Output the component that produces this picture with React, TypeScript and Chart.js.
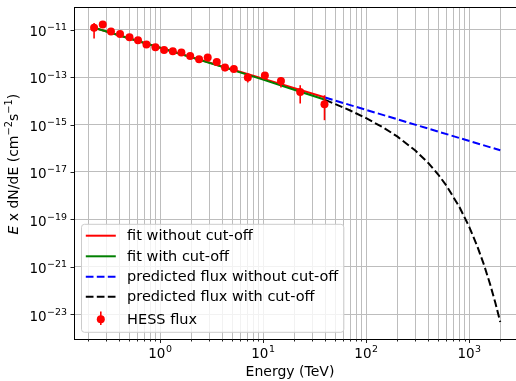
import React, { useEffect, useRef } from "react";
import { Chart, registerables } from "chart.js";

Chart.register(...registerables);

// HESS flux points: energy (TeV), E x dN/dE (cm^-2 s^-1), error-bar ends
const hessEnergy = [0.229, 0.278, 0.334, 0.409, 0.505, 0.611, 0.738, 0.902, 1.094, 1.33, 1.61, 1.96, 2.39, 2.9, 3.55, 4.27, 5.2, 7.1, 10.4, 14.9, 22.9, 39.4];
const hessFlux = [1.21e-11, 1.63e-11, 8.24e-12, 6.53e-12, 4.74e-12, 3.54e-12, 2.33e-12, 1.8e-12, 1.38e-12, 1.22e-12, 1.08e-12, 7.73e-13, 5.61e-13, 6.62e-13, 4.32e-13, 2.51e-13, 2.19e-13, 9.53e-14, 1.16e-13, 6.86e-14, 2.36e-14, 7.16e-15];
const hessLow = [4.18e-12, 1.42e-11, 7.3e-12, 5.8e-12, 4.2e-12, 3.15e-12, 2.07e-12, 1.6e-12, 1.22e-12, 1.07e-12, 9.4e-13, 6.7e-13, 4.8e-13, 5.6e-13, 3.6e-13, 1.75e-13, 1.8e-13, 5.9e-14, 9.5e-14, 3.6e-14, 7.66e-15, 1.52e-15];
const hessHigh = [1.9e-11, 1.9e-11, 9.2e-12, 7.3e-12, 5.3e-12, 3.95e-12, 2.6e-12, 2.0e-12, 1.55e-12, 1.38e-12, 1.23e-12, 8.9e-13, 6.5e-13, 7.7e-13, 5.2e-13, 3.1e-13, 2.65e-13, 1.4e-13, 1.42e-13, 1.01e-13, 4.52e-14, 1.71e-14];

// fit without cut-off
const fitNoCutEnergy = [0.229, 40];
const fitNoCutFlux = [1.19e-11, 1.37e-14];
// fit with cut-off
const fitCutEnergy = [0.229, 1, 5, 10, 20, 40];
const fitCutFlux = [1.19e-11, 1.71e-12, 2.0e-13, 7.8e-14, 2.9e-14, 1.1e-14];
// predicted flux without cut-off
const predNoCutEnergy = [40, 2000];
const predNoCutFlux = [1.37e-14, 8.2e-17];
// predicted flux with cut-off
const predCutEnergy = [40, 50, 70, 100, 150, 200, 300, 400, 500, 600, 800, 1000, 1200, 1400, 1600, 1800, 2000];
const predCutFlux = [1.1e-14, 7.3e-15, 3.9e-15, 1.85e-15, 7.0e-16, 3.15e-16, 8.0e-17, 2.4e-17, 7.8e-18, 2.66e-18, 3.45e-19, 4.86e-20, 7.23e-21, 1.12e-21, 1.77e-22, 2.86e-23, 4.72e-24];

// axes
const xMin = 0.1462;
const xMax = 3400;
const yMin = 8.7e-25;
const yMax = 8.96e-11;
const xDecades = [0.1, 1, 10, 100, 1000];
const xMajorExps = [0, 1, 2, 3];
const yMajorExps = [-23, -21, -19, -17, -15, -13, -11];

const legendLabels = [
  "fit without cut-off",
  "fit with cut-off",
  "predicted flux without cut-off",
  "predicted flux with cut-off",
  "HESS flux",
];

const FONT = '"DejaVu Sans"';
const DASH = [7.7, 3.3];
const CANVAS_W = 524;
const CANVAS_H = 381;

function pts(xs: number[], ys: number[]) {
  return xs.map((x, i) => ({ x, y: ys[i] }));
}

function xTickValues() {
  const out: number[] = [];
  for (const d of xDecades) {
    for (let m = 1; m <= 9; m++) {
      const v = +(d * m).toPrecision(6);
      if (v >= xMin && v <= xMax) out.push(v);
    }
  }
  return out;
}

function expText(e: number) {
  return e < 0 ? "\u2212" + String(-e) : String(e);
}

function drawPow(ctx: CanvasRenderingContext2D, x: number, baseline: number, e: number, align: "center" | "right", size: number) {
  const es = size * 0.7;
  ctx.font = `${size}px ${FONT}`;
  const wb = ctx.measureText("10").width;
  ctx.font = `${es}px ${FONT}`;
  const et = expText(e);
  const we = ctx.measureText(et).width;
  const total = wb + 0.5 + we;
  const sx = align === "center" ? x - total / 2 : x - total;
  ctx.textAlign = "left";
  ctx.textBaseline = "alphabetic";
  ctx.fillStyle = "#000";
  ctx.font = `${size}px ${FONT}`;
  ctx.fillText("10", sx, baseline);
  ctx.font = `${es}px ${FONT}`;
  ctx.fillText(et, sx + wb + 0.5, baseline - size * 0.43);
}

const decorPlugin = {
  id: "decor",
  beforeDatasetDraw(chart: any, args: any) {
    if (args.index !== 0) return;
    const { ctx, scales } = chart;
    const xs = scales.x;
    const ys = scales.y;
    ctx.save();
    ctx.strokeStyle = "#ff0000";
    ctx.lineWidth = 1.6;
    hessEnergy.forEach((E, i) => {
      const px = xs.getPixelForValue(E);
      ctx.beginPath();
      ctx.moveTo(px, ys.getPixelForValue(hessLow[i]));
      ctx.lineTo(px, ys.getPixelForValue(hessHigh[i]));
      ctx.stroke();
    });
    ctx.restore();
  },
  afterDraw(chart: any) {
    const { ctx, chartArea: ca, scales } = chart;
    const xs = scales.x;
    const ys = scales.y;
    ctx.save();

    // top spine
    ctx.strokeStyle = "#000";
    ctx.lineWidth = 1;
    ctx.beginPath();
    ctx.moveTo(ca.left, Math.round(ca.top) + 0.5);
    ctx.lineTo(ca.right, Math.round(ca.top) + 0.5);
    ctx.stroke();

    // x ticks
    ctx.strokeStyle = "#222";
    for (const v of xTickValues()) {
      const major = Math.abs(Math.log10(v) - Math.round(Math.log10(v))) < 1e-9;
      const px = Math.round(xs.getPixelForValue(v)) + 0.5;
      ctx.beginPath();
      ctx.moveTo(px, ca.bottom);
      ctx.lineTo(px, ca.bottom + (major ? 3.5 : 2));
      ctx.stroke();
    }
    // y ticks
    for (const e of yMajorExps) {
      const py = Math.round(ys.getPixelForValue(Math.pow(10, e))) + 0.5;
      ctx.beginPath();
      ctx.moveTo(ca.left - 3.5, py);
      ctx.lineTo(ca.left, py);
      ctx.stroke();
    }

    // tick labels
    for (const e of xMajorExps) {
      drawPow(ctx, xs.getPixelForValue(Math.pow(10, e)), ca.bottom + 18.5, e, "center", 13.5);
    }
    for (const e of yMajorExps) {
      drawPow(ctx, ca.left - 7, ys.getPixelForValue(Math.pow(10, e)) + 6.3, e, "right", 13.5);
    }

    // x title
    ctx.fillStyle = "#000";
    ctx.font = `14px ${FONT}`;
    ctx.textAlign = "center";
    ctx.textBaseline = "alphabetic";
    ctx.fillText("Energy (TeV)", ca.left + 216, ca.bottom + 36.5);

    // y title (rich text)
    const parts = [
      { t: "E", f: `italic 14px ${FONT}`, dy: 0 },
      { t: " x dN/dE (cm", f: `14px ${FONT}`, dy: 0 },
      { t: "\u22122", f: `9.8px ${FONT}`, dy: -6 },
      { t: "s", f: `14px ${FONT}`, dy: 0 },
      { t: "\u22121", f: `9.8px ${FONT}`, dy: -6 },
      { t: ")", f: `14px ${FONT}`, dy: 0 },
    ];
    let tw = 0;
    const widths = parts.map((p) => {
      ctx.font = p.f;
      const w = ctx.measureText(p.t).width;
      tw += w;
      return w;
    });
    ctx.save();
    ctx.translate(17.5, (ca.top + ca.bottom) / 2 - 9);
    ctx.rotate(-Math.PI / 2);
    ctx.textAlign = "left";
    let cx = -tw / 2;
    parts.forEach((p, i) => {
      ctx.font = p.f;
      ctx.fillText(p.t, cx, p.dy);
      cx += widths[i];
    });
    ctx.restore();

    // legend
    const LF = `14.5px ${FONT}`;
    ctx.font = LF;
    let maxW = 0;
    for (const l of legendLabels) maxW = Math.max(maxW, ctx.measureText(l).width);
    const bl = ca.left + 7.5;
    const bb = ca.bottom - 7.2;
    const bh = 108;
    const bt = bb - bh;
    const bw = 45.6 + maxW + 5.5;
    const r = 3;
    ctx.beginPath();
    ctx.moveTo(bl + r, bt);
    ctx.lineTo(bl + bw - r, bt);
    ctx.arcTo(bl + bw, bt, bl + bw, bt + r, r);
    ctx.lineTo(bl + bw, bb - r);
    ctx.arcTo(bl + bw, bb, bl + bw - r, bb, r);
    ctx.lineTo(bl + r, bb);
    ctx.arcTo(bl, bb, bl, bb - r, r);
    ctx.lineTo(bl, bt + r);
    ctx.arcTo(bl, bt, bl + r, bt, r);
    ctx.closePath();
    ctx.fillStyle = "rgba(255,255,255,0.8)";
    ctx.fill();
    ctx.strokeStyle = "#cccccc";
    ctx.lineWidth = 1;
    ctx.stroke();

    const rows = [11.4, 32, 52.4, 72.4, 95];
    const styles = [
      { c: "#ff0000", dash: [] as number[] },
      { c: "#008000", dash: [] as number[] },
      { c: "#0000ff", dash: DASH },
      { c: "#000000", dash: DASH },
    ];
    styles.forEach((s, i) => {
      const y = bt + rows[i];
      ctx.strokeStyle = s.c;
      ctx.lineWidth = 2;
      ctx.setLineDash(s.dash);
      ctx.beginPath();
      ctx.moveTo(bl + 4.3, y);
      ctx.lineTo(bl + 34.3, y);
      ctx.stroke();
    });
    ctx.setLineDash([]);
    // errorbar handle
    const hy = bt + rows[4];
    const hx = bl + 19.3;
    ctx.strokeStyle = "#ff0000";
    ctx.lineWidth = 1.6;
    ctx.beginPath();
    ctx.moveTo(hx, hy - 7.7);
    ctx.lineTo(hx, hy + 5.7);
    ctx.stroke();
    ctx.fillStyle = "#ff0000";
    ctx.beginPath();
    ctx.arc(hx, hy, 4, 0, Math.PI * 2);
    ctx.fill();

    ctx.fillStyle = "#000";
    ctx.font = LF;
    ctx.textAlign = "left";
    ctx.textBaseline = "middle";
    legendLabels.forEach((l, i) => {
      ctx.fillText(l, bl + 45.6, bt + rows[i] + 0.5);
    });

    ctx.restore();
  },
};

export default function App() {
  const ref = useRef<HTMLCanvasElement>(null);
  useEffect(() => {
    const canvas = ref.current;
    if (!canvas) return;
    const ticksX = xTickValues();
    const chart = new Chart(canvas, {
      type: "scatter",
      data: {
        datasets: [
          {
            label: "HESS flux",
            data: pts(hessEnergy, hessFlux),
            showLine: false,
            pointRadius: 4,
            pointBorderWidth: 0,
            pointBackgroundColor: "#ff0000",
            pointBorderColor: "#ff0000",
            order: 0,
          },
          {
            label: "predicted flux with cut-off",
            data: pts(predCutEnergy, predCutFlux),
            showLine: true,
            borderColor: "#000000",
            borderWidth: 2,
            borderDash: DASH,
            pointRadius: 0,
            order: 1,
          },
          {
            label: "predicted flux without cut-off",
            data: pts(predNoCutEnergy, predNoCutFlux),
            showLine: true,
            borderColor: "#0000ff",
            borderWidth: 2,
            borderDash: DASH,
            pointRadius: 0,
            order: 2,
          },
          {
            label: "fit with cut-off",
            data: pts(fitCutEnergy, fitCutFlux),
            showLine: true,
            borderColor: "#008000",
            borderWidth: 2,
            pointRadius: 0,
            order: 3,
          },
          {
            label: "fit without cut-off",
            data: pts(fitNoCutEnergy, fitNoCutFlux),
            showLine: true,
            borderColor: "#ff0000",
            borderWidth: 2,
            pointRadius: 0,
            order: 4,
          },
        ],
      },
      options: {
        animation: false,
        responsive: false,
        maintainAspectRatio: false,
        devicePixelRatio: 1,
        layout: { autoPadding: false, padding: { top: 7, left: 0, right: 0, bottom: 0 } },
        plugins: { legend: { display: false }, tooltip: { enabled: false } },
        scales: {
          x: {
            type: "logarithmic",
            min: xMin,
            max: xMax,
            bounds: "data",
            afterFit: (s: any) => {
              s.height = 41.5;
            },
            afterBuildTicks: (s: any) => {
              s.ticks = ticksX.map((v) => ({ value: v }));
            },
            ticks: { display: false, autoSkip: false },
            grid: { color: "#bdbdbd", lineWidth: 1, drawTicks: false },
            border: { display: true, color: "#000", width: 1 },
          },
          y: {
            type: "logarithmic",
            min: yMin,
            max: yMax,
            bounds: "data",
            afterFit: (s: any) => {
              s.width = 74;
            },
            afterBuildTicks: (s: any) => {
              s.ticks = yMajorExps.map((e) => ({ value: Math.pow(10, e) }));
            },
            ticks: { display: false, autoSkip: false },
            grid: { color: "#bdbdbd", lineWidth: 1, drawTicks: false },
            border: { display: true, color: "#000", width: 1 },
          },
        },
      } as any,
      plugins: [decorPlugin],
    });
    return () => chart.destroy();
  }, []);
  return (
    <div style={{ position: "fixed", left: 0, top: 0, width: 516, height: 381, overflow: "hidden", background: "#fff" }}>
      <canvas
        ref={ref}
        width={CANVAS_W}
        height={CANVAS_H}
        style={{ display: "block", width: CANVAS_W, height: CANVAS_H }}
      />
    </div>
  );
}
